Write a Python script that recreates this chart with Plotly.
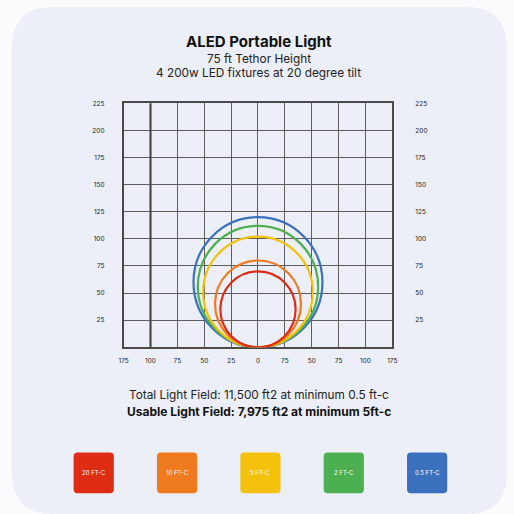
import plotly.graph_objects as go

W = H = 514

# ---- data ----
levels = ["20 FT-C", "10 FT-C", "5 FT-C", "2 FT-C", "0.5 FT-C"]
radii = [35, 40, 51, 56, 60]          # circle radius (ft), all tangent at origin
colors = ["#de2d14", "#f07a1e", "#f4c20d", "#4caf50", "#3a70bd"]
x_tickvals = [-125, -100, -75, -50, -25, 0, 25, 50, 75, 100, 125]
x_ticktext = ["175", "100", "75", "50", "25", "0", "75", "50", "75", "100", "175"]
y_tickvals = [25, 50, 75, 100, 125, 150, 175, 200, 225]
y_ticktext = ["25", "50", "75", "100", "125", "150", "175", "200", "225"]

title = "ALED Portable Light"
subtitle1 = "75 ft Tethor Height"
subtitle2 = "4 200w LED fixtures at 20 degree tilt"
note1 = "Total Light Field: 11,500 ft2 at minimum 0.5 ft-c"
note2 = "Usable Light Field: 7,975 ft2 at minimum 5ft-c"


def px(x):
    return x / W


def py(y):
    return 1 - y / H


def rounded_rect(x0, y0, x1, y1, r):
    X = lambda v: f"{px(v):.5f}"
    Y = lambda v: f"{py(v):.5f}"
    return (f"M {X(x0 + r)} {Y(y0)} L {X(x1 - r)} {Y(y0)} "
            f"Q {X(x1)} {Y(y0)} {X(x1)} {Y(y0 + r)} L {X(x1)} {Y(y1 - r)} "
            f"Q {X(x1)} {Y(y1)} {X(x1 - r)} {Y(y1)} L {X(x0 + r)} {Y(y1)} "
            f"Q {X(x0)} {Y(y1)} {X(x0)} {Y(y1 - r)} L {X(x0)} {Y(y0 + r)} "
            f"Q {X(x0)} {Y(y0)} {X(x0 + r)} {Y(y0)} Z")


fig = go.Figure()
fig.add_trace(go.Scatter(x=[-125, 125], y=[0, 225], mode="markers",
                         marker=dict(opacity=0), hoverinfo="skip", showlegend=False))
fig.add_trace(go.Scatter(x=[-125, 125], y=[0, 225], mode="markers", yaxis="y2",
                         marker=dict(opacity=0), hoverinfo="skip", showlegend=False))

shapes = []
shapes.append(dict(type="path", xref="paper", yref="paper", layer="below",
                   path=rounded_rect(7, 3, 512, 514, 42),
                   fillcolor="#eceff7", line=dict(width=0)))
shapes.append(dict(type="line", xref="x", yref="y", x0=-100, x1=-100, y0=0, y1=225,
                   line=dict(color="#4a4a4a", width=2.2), layer="above"))
for r, c in sorted(zip(radii, colors), reverse=True):
    shapes.append(dict(type="circle", xref="x", yref="y", x0=-r, x1=r, y0=0, y1=2 * r,
                       line=dict(color=c, width=2.2), layer="above"))

box_left = [70, 155, 240, 325, 410]
annotations = []
for xl, lab, c in zip(box_left, levels, colors):
    shapes.append(dict(type="path", xref="paper", yref="paper",
                       path=rounded_rect(xl, 452, xl + 41, 493, 4),
                       fillcolor=c, line=dict(width=0)))
    annotations.append(dict(x=px(xl + 20.5), y=py(472.5), xref="paper", yref="paper",
                            text=lab, showarrow=False, xanchor="center", yanchor="middle",
                            font=dict(size=6, color="white", family="Inter")))

texts = [
    (title, 38, 15, "#111111", True),
    (subtitle1, 55, 11.8, "#222222", False),
    (subtitle2, 70, 11.8, "#222222", False),
    (note1, 394, 11.8, "#222222", False),
    (note2, 411, 12, "#111111", True),
]
for t, yy, sz, col, bold in texts:
    annotations.append(dict(x=px(259), y=py(yy), xref="paper", yref="paper",
                            text=f"<b>{t}</b>" if bold else t, showarrow=False,
                            xanchor="center", yanchor="middle",
                            font=dict(size=sz, color=col, family="Inter")))

tickfont = dict(size=6.5, color="#222222", family="Inter")
fig.update_layout(
    width=W, height=H,
    margin=dict(l=0, r=0, t=0, b=0),
    paper_bgcolor="#fafbfd",
    plot_bgcolor="rgba(0,0,0,0)",
    showlegend=False,
    shapes=shapes,
    annotations=annotations,
    xaxis=dict(domain=[px(121), px(395)], range=[-125, 125],
               tickvals=x_tickvals, ticktext=x_ticktext, tickfont=tickfont,
               showgrid=True, gridcolor="#5e5e5e", gridwidth=1.2,
               showline=True, linecolor="#4a4a4a", linewidth=1.6, mirror=True,
               zeroline=False, ticks="", ticklabelstandoff=6, fixedrange=True),
    yaxis=dict(domain=[py(346), py(100)], range=[0, 225],
               tickvals=y_tickvals, ticktext=y_ticktext, tickfont=tickfont,
               showgrid=True, gridcolor="#5e5e5e", gridwidth=1.2,
               showline=True, linecolor="#4a4a4a", linewidth=1.6, mirror=True,
               zeroline=False, ticks="", ticklabelstandoff=16, fixedrange=True),
    yaxis2=dict(overlaying="y", side="right", range=[0, 225],
                tickvals=y_tickvals, ticktext=y_ticktext, tickfont=tickfont,
                showgrid=False, showline=False, zeroline=False, ticks="",
                ticklabelstandoff=22, fixedrange=True),
)

fig.write_html("out.html", config={"displayModeBar": False},
               post_script="document.body.style.margin='0';document.body.style.overflow='hidden';")
